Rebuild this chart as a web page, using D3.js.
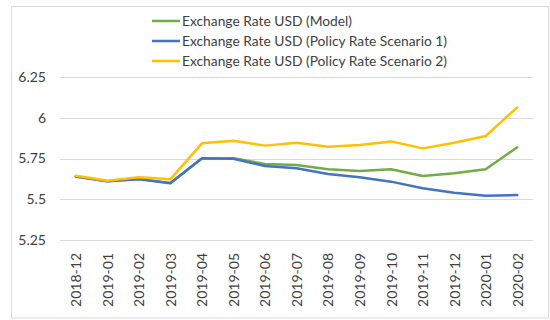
<!DOCTYPE html>
<html>
<head>
<meta charset="utf-8">
<script src="https://cdn.jsdelivr.net/npm/d3@7"></script>
<style>
  html, body { margin: 0; padding: 0; background: #fff; }
  svg { display: block; }
  text { font-family: Lato, "Open Sans", sans-serif; fill: #404040; }
</style>
</head>
<body>
<svg id="chart" width="550" height="320"></svg>
<script>
// Monthly periods
const months = ["2018-12", "2019-01", "2019-02", "2019-03", "2019-04", "2019-05", "2019-06",
  "2019-07", "2019-08", "2019-09", "2019-10", "2019-11", "2019-12", "2020-01", "2020-02"];

// Exchange rate paths
const modelRate = [5.64, 5.61, 5.625, 5.60, 5.75, 5.752, 5.716, 5.71, 5.684, 5.673, 5.684, 5.643, 5.659, 5.684, 5.819];
const scenario1Rate = [5.64, 5.61, 5.622, 5.598, 5.751, 5.748, 5.704, 5.69, 5.655, 5.635, 5.608, 5.567, 5.54, 5.522, 5.526];
const scenario2Rate = [5.644, 5.614, 5.635, 5.622, 5.843, 5.859, 5.829, 5.847, 5.822, 5.833, 5.855, 5.812, 5.847, 5.888, 6.064];

const seriesNames = ["Exchange Rate USD (Model)", "Exchange Rate USD (Policy Rate Scenario 1)", "Exchange Rate USD (Policy Rate Scenario 2)"];
const yTicks = [5.25, 5.5, 5.75, 6, 6.25];

const series = [
  { name: seriesNames[0], values: modelRate, color: "#70AD47" },
  { name: seriesNames[1], values: scenario1Rate, color: "#4472C4" },
  { name: seriesNames[2], values: scenario2Rate, color: "#FFC000" }
];

const svg = d3.select("#chart");

// Chart frame
svg.append("rect")
  .attr("x", 11.5).attr("y", 6.5)
  .attr("width", 537).attr("height", 311.5)
  .attr("fill", "#fff").attr("stroke", "#d9d9d9");

const plot = { left: 60, right: 533, top: 77, bottom: 240 };

const x = d3.scalePoint().domain(months)
  .range([plot.left, plot.right]).padding(0.5);
const y = d3.scaleLinear().domain([5.25, 6.25])
  .range([plot.bottom, plot.top]);

// Horizontal gridlines
svg.append("g")
  .selectAll("line").data(yTicks).join("line")
  .attr("x1", plot.left).attr("x2", plot.right)
  .attr("y1", d => Math.round(y(d)) + 0.5).attr("y2", d => Math.round(y(d)) + 0.5)
  .attr("stroke", "#d9d9d9").attr("stroke-width", 1);

// Value axis labels
const yAxis = d3.axisLeft(y).tickValues(yTicks).tickSize(0).tickPadding(0)
  .tickFormat(d3.format(""));
const yg = svg.append("g").attr("transform", "translate(46,0)").call(yAxis);
yg.select(".domain").remove();
yg.selectAll("text").style("font-size", "14px").style("font-family", "Lato, sans-serif").attr("fill", "#404040");

// Category axis labels, rotated
const xAxis = d3.axisBottom(x).tickSize(0).tickPadding(0);
const xg = svg.append("g").attr("transform", `translate(0,${plot.bottom})`).call(xAxis);
xg.select(".domain").remove();
xg.selectAll("text")
  .attr("transform", "rotate(-90)")
  .attr("x", -13).attr("y", 0).attr("dy", "0.35em")
  .attr("text-anchor", "end")
  .style("font-size", "14px").style("font-family", "Lato, sans-serif").attr("fill", "#404040");

// Series lines
const line = d3.line()
  .x((d, i) => x(months[i]))
  .y(d => y(d));

svg.append("g")
  .selectAll("path").data(series).join("path")
  .attr("d", d => line(d.values))
  .attr("fill", "none")
  .attr("stroke", d => d.color)
  .attr("stroke-width", 2.5)
  .attr("stroke-linejoin", "round")
  .attr("stroke-linecap", "round");

// Legend
const legend = svg.append("g").attr("transform", "translate(152,21)");
const item = legend.selectAll("g").data(series).join("g")
  .attr("transform", (d, i) => `translate(0,${i * 20})`);
item.append("line")
  .attr("x1", 0).attr("x2", 28).attr("y1", 0).attr("y2", 0)
  .attr("stroke", d => d.color).attr("stroke-width", 2.5);
item.append("text")
  .attr("x", 30).attr("y", 0).attr("dy", "0.35em")
  .style("font-size", "13.8px")
  .text(d => d.name);
</script>
</body>
</html>
